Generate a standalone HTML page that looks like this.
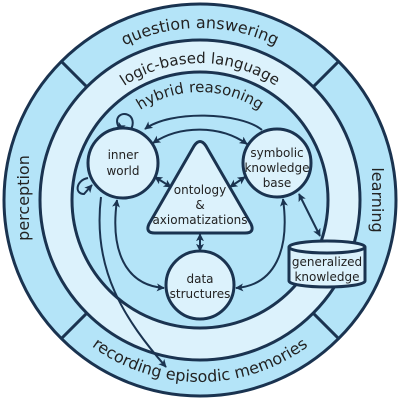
<!DOCTYPE html>
<html><head><meta charset="utf-8"><style>
html,body{margin:0;padding:0;background:#fff}
svg{display:block}
text{font-family:"DejaVu Sans","Liberation Sans",sans-serif;fill:#222}
</style></head><body>
<svg width="400" height="400" viewBox="0 0 400 400" xmlns="http://www.w3.org/2000/svg">
<defs>
<marker id="a" viewBox="0 0 10 10" refX="9" refY="5" markerWidth="4" markerHeight="4" orient="auto-start-reverse" markerUnits="strokeWidth"><path d="M0,0 L10,5 L0,10 L2.5,5 z" fill="#1a3350"/></marker>
<path id="pq" d="M28,200 A172,172 0 0 1 372,200"/>
<path id="pl" d="M63,200 A137,137 0 0 1 337,200"/>
<path id="ph" d="M92,200 A108,108 0 0 1 308,200"/>
<path id="pr" d="M18,200 A182,182 0 0 0 382,200"/>
</defs>
<g stroke="#1a3350" stroke-width="3">
<circle cx="200" cy="200" r="196" fill="#b4e4f8"/>
<circle cx="200" cy="200" r="160" fill="#dcf2fc"/>
<circle cx="200" cy="200" r="128" fill="#b4e4f8"/>
<line x1="86.9" y1="86.9" x2="61.4" y2="61.4"/>
<line x1="313.1" y1="86.9" x2="338.6" y2="61.4"/>
<line x1="86.9" y1="313.1" x2="61.4" y2="338.6"/>
<line x1="313.1" y1="313.1" x2="338.6" y2="338.6"/>
</g>
<text font-size="16" text-anchor="middle"><textPath href="#pq" startOffset="50%">question answering</textPath></text>
<text font-size="15" text-anchor="middle"><textPath href="#pl" startOffset="50%">logic-based language</textPath></text>
<text font-size="15" text-anchor="middle"><textPath href="#ph" startOffset="50%">hybrid reasoning</textPath></text>
<text font-size="16" text-anchor="middle"><textPath href="#pr" startOffset="50%">recording episodic memories</textPath></text>
<text font-size="16" text-anchor="middle" transform="translate(29,198) rotate(-90)">perception</text>
<text font-size="16" text-anchor="middle" transform="translate(372,200) rotate(90)">learning</text>

<g fill="none" stroke="#1a3350" stroke-width="2">
<path d="M262,130 C240,112 170,110 145,129" marker-end="url(#a)"/>
<path d="M153,143 C180,125 220,125 247,144" marker-start="url(#a)" marker-end="url(#a)"/>
<path d="M120,129 C112,118 122,110 130,116 C134,120 133,126 131,129"/>
<path d="M120,128 L119,130" marker-end="url(#a)"/>
<path d="M88,178 C76,180 74,194 84,194 L92,185" marker-end="url(#a)"/>
<path d="M155,177 L171,187" marker-start="url(#a)" marker-end="url(#a)"/>
<path d="M245,177 L230,187" marker-start="url(#a)" marker-end="url(#a)"/>
<path d="M200,234 L200,251" marker-start="url(#a)" marker-end="url(#a)"/>
<path d="M117,200 C110,250 125,285 164,288" marker-start="url(#a)" marker-end="url(#a)"/>
<path d="M283,199 C290,250 275,285 236,288" marker-start="url(#a)" marker-end="url(#a)"/>
<path d="M299,194 L320,236" marker-start="url(#a)" marker-end="url(#a)"/>
<path d="M101,197 C92,270 125,320 166,367" marker-end="url(#a)"/>
</g>

<g stroke="#1a3350" stroke-width="3" fill="#dcf2fc">
<circle cx="123" cy="163" r="35"/>
<circle cx="277" cy="163" r="34"/>
<circle cx="200" cy="285" r="34"/>
<path d="M194,146 Q200,137 206,146 L251,224 Q255,233 245,233 L155,233 Q145,233 149,224 Z"/>
<path d="M289,247 L289,281 A38,6 0 0 0 365,281 L365,247"/>
<ellipse cx="327" cy="247" rx="38" ry="6"/>
</g>
<g font-size="12" text-anchor="middle">
<text x="123" y="159">inner</text><text x="123" y="175">world</text>
<text x="277" y="157">symbolic</text><text x="277" y="172">knowledge</text><text x="277" y="187">base</text>
<text x="200" y="194">ontology</text><text x="200" y="209">&amp;</text><text x="200" y="224">axiomatizations</text>
<text x="200" y="283">data</text><text x="200" y="298">structures</text>
<text x="327" y="266">generalized</text><text x="327" y="281">knowledge</text>
</g>
</svg>
</body></html>
